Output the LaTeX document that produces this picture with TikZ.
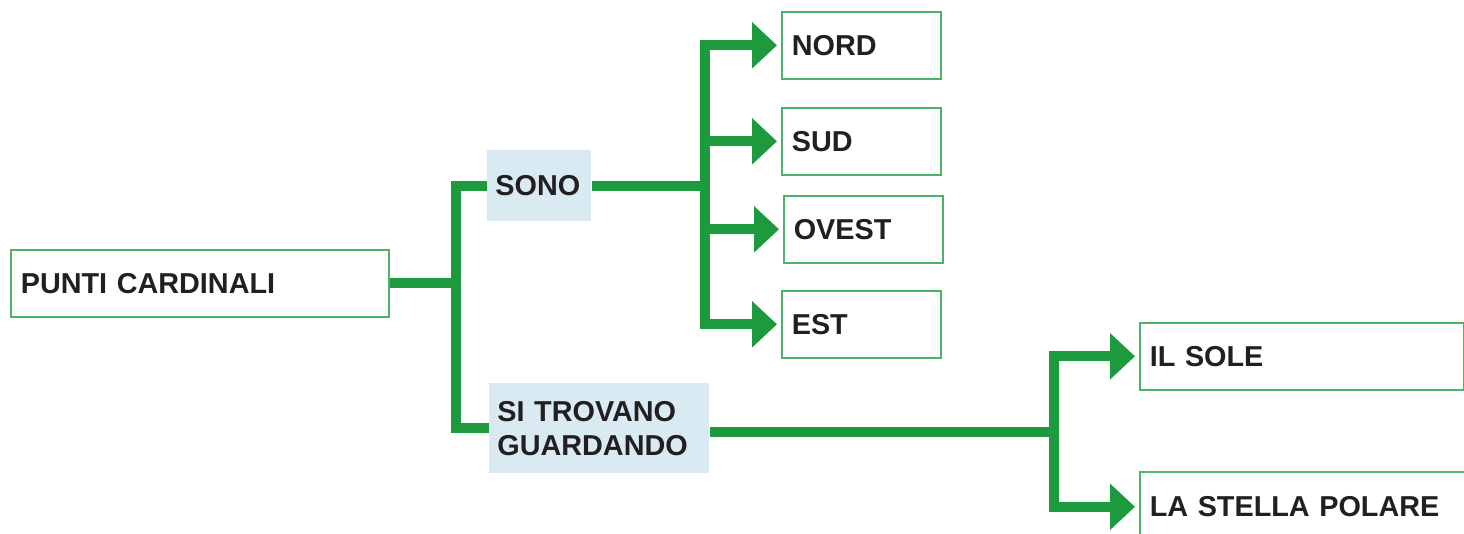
\documentclass[tikz,border=0pt]{standalone}
\usepackage{fontspec}
\setmainfont{Liberation Sans}
\usetikzlibrary{positioning,arrows.meta}
\definecolor{linkgreen}{HTML}{1E9A3E}
\definecolor{boxgreen}{HTML}{4DB36A}
\definecolor{tagblue}{HTML}{DAEAF3}
\definecolor{ink}{HTML}{231F20}
\tikzset{
  label font/.style={font=\bfseries\fontsize{14.4}{17}\selectfont, text=ink},
  box/.style={label font, draw=boxgreen, line width=0.8pt, anchor=north west,
    inner xsep=5pt, text width=#1, align=left, minimum height=33.5pt},
  tag/.style={label font, fill=tagblue, anchor=north west,
    inner xsep=4pt, text width=#1, align=left},
  link/.style={draw=linkgreen, line width=5pt},
  arrow/.style={link, -{Triangle[length=12.5pt,width=22.5pt]}, shorten >=2pt}
}
\begin{document}
\begin{tikzpicture}[x=0.5pt,y=-0.5pt]
  \useasboundingbox (0,0) rectangle (1464,534);
  % boxes
  \node[box=179pt] (punti) at (10,249) {PUNTI CARDINALI};
  \node[tag=44pt, minimum height=35.5pt] (sono) at (487,150) {SONO};
  \node[tag=102pt, minimum height=45pt] (trovano) at (489,383) {SI TROVANO\\GUARDANDO};
  \node[box=69.5pt] (nord) at (781,11) {NORD};
  \node[box=69.5pt] (sud) at (781,107) {SUD};
  \node[box=69.5pt] (ovest) at (783,195) {OVEST};
  \node[box=69.5pt] (est) at (781,290) {EST};
  \node[box=152pt] (sole) at (1139,322) {IL SOLE};
  \node[box=153pt, minimum height=35pt] (stella) at (1139,471) {LA STELLA POLARE};
  % connectors
  \draw[link] (punti.east) -- ++(66,0) coordinate (fork1);
  \draw[link] (sono.west) -| (fork1) |- (trovano.west);
  \draw[link] (sono.east) -- ++(113,0) coordinate (fork2);
  \draw[arrow] (fork2) |- (nord.west);
  \draw[arrow] (fork2) |- (sud.west);
  \draw[arrow] (fork2) |- (ovest.west);
  \draw[arrow] (fork2) |- (est.west);
  \draw[link] ([yshift=-2pt]trovano.east) -- ++(344,0) coordinate (fork3);
  \draw[arrow] (fork3) |- (sole.west);
  \draw[arrow] (fork3) |- (stella.west);
\end{tikzpicture}
\end{document}
